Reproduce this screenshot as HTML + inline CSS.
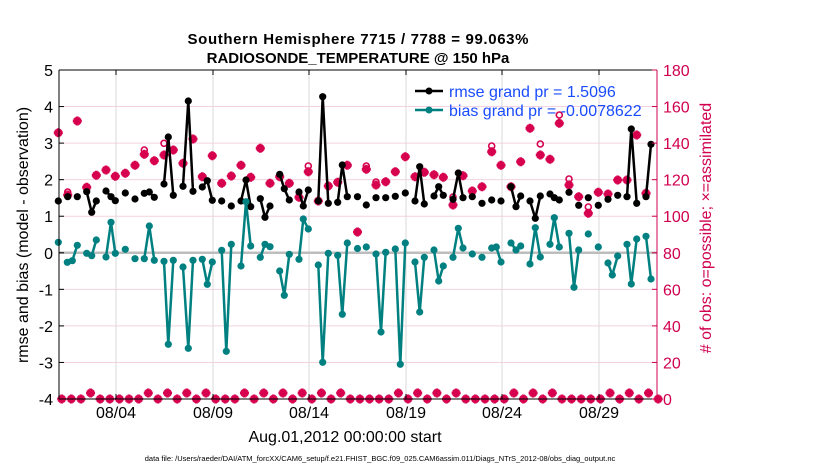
<!DOCTYPE html>
<html><head><meta charset="utf-8"><style>
html,body{margin:0;padding:0;background:#fff;}
svg{display:block;font-family:"Liberation Sans",Arial,sans-serif;}
</style></head><body>
<svg id="s" width="830" height="470" viewBox="0 0 830 470" xmlns="http://www.w3.org/2000/svg">
<rect width="830" height="470" fill="#fff"/>
<g id="grid"></g>
<g id="data"></g>
<g id="axes"></g>
<text x="358" y="44" font-size="15" font-weight="bold" text-anchor="middle" textLength="341">Southern Hemisphere 7715 / 7788 = 99.063%</text>
<text x="358" y="63" font-size="15" font-weight="bold" text-anchor="middle">RADIOSONDE_TEMPERATURE @ 150 hPa</text>
<text transform="translate(28,235) rotate(-90)" font-size="16" text-anchor="middle">rmse and bias (model - observation)</text>
<text transform="translate(711,228) rotate(-90)" font-size="16" text-anchor="middle" fill="#d0004f">#  of obs: o=possible; ×=assimilated</text>
<text x="345" y="442" font-size="16" text-anchor="middle">Aug.01,2012 00:00:00 start</text>
<text x="380" y="461" font-size="7.5" text-anchor="middle">data file: /Users/raeder/DAI/ATM_forcXX/CAM6_setup/f.e21.FHIST_BGC.f09_025.CAM6assim.011/Diags_NTrS_2012-08/obs_diag_output.nc</text>
<g>
<line x1="415" y1="91" x2="443" y2="91" stroke="#000" stroke-width="2.5"/><circle cx="429" cy="91" r="3.5" fill="#000"/>
<line x1="415" y1="110" x2="443" y2="110" stroke="#008080" stroke-width="2.5"/><circle cx="429" cy="110" r="3.5" fill="#008080"/>
<text x="449" y="97" font-size="16" fill="#1a4cff">rmse grand pr = 1.5096</text>
<text x="449" y="116" font-size="16" fill="#1a4cff">bias grand pr = -0.0078622</text>
</g>
</svg>
<script>
const NS="http://www.w3.org/2000/svg";
function el(p,t,a,txt){const e=document.createElementNS(NS,t);for(const k in a)e.setAttribute(k,a[k]);if(txt!==undefined)e.textContent=txt;document.getElementById(p).appendChild(e);return e;}
const X0=59,X1=657,Y0=70,Y1=399,U=(Y1-Y0)/9;
for(let k=1;k<9;k++){const y=Y0+k*U;el('grid','line',{x1:X0,x2:X1,y1:y,y2:y,stroke:'#f3d3df','stroke-width':1});}
const xt=[[116,'08/04'],[213,'08/09'],[309,'08/14'],[406,'08/19'],[502,'08/24'],[599,'08/29']];
xt.forEach(([x,l])=>{el('grid','line',{x1:x,x2:x,y1:Y0,y2:Y1,stroke:'#dadada','stroke-width':1});el('axes','text',{x:x,y:418,'font-size':16,'text-anchor':'middle'},l);
el('axes','line',{x1:x,x2:x,y1:Y1,y2:Y1-5,stroke:'#000'});el('axes','line',{x1:x,x2:x,y1:Y0,y2:Y0+5,stroke:'#000'});});
const y0=Y0+5*U;
el('grid','line',{x1:X0,x2:X1,y1:y0,y2:y0,stroke:'#bdbdbd','stroke-width':2.5});
el('axes','line',{x1:X0,x2:X1,y1:Y0,y2:Y0,stroke:'#000'});
el('axes','line',{x1:X0,x2:X1,y1:Y1,y2:Y1,stroke:'#000'});
el('axes','line',{x1:X0,x2:X0,y1:Y0,y2:Y1,stroke:'#000'});
el('axes','line',{x1:X1,x2:X1,y1:Y0,y2:Y1,stroke:'#d0004f'});
for(let k=0;k<10;k++){const y=Y0+k*U;
el('axes','text',{x:53,y:y+6,'font-size':16,'text-anchor':'end'},String(5-k));
el('axes','line',{x1:X0,x2:X0+5,y1:y,y2:y,stroke:'#000'});
el('axes','line',{x1:X1,x2:X1-5,y1:y,y2:y,stroke:'#d0004f'});
el('axes','text',{x:663,y:y+6,'font-size':16,fill:'#d0004f'},String(180-20*k));}
function star(x,y){el('data','path',{d:`M${x-4.5} ${y}H${x+4.5}M${x} ${y-4.5}V${y+4.5}M${x-3} ${y-3}L${x+3} ${y+3}M${x-3} ${y+3}L${x+3} ${y-3}`,stroke:'#d6004f','stroke-width':2.8,fill:'none'});
el('data','circle',{cx:x,cy:y,r:2.6,fill:'#d6004f'});}
function circ(x,y){el('data','circle',{cx:x,cy:y,r:3,fill:'none',stroke:'#d6004f','stroke-width':1.6});}
const pk=[[58.3,132.7],[67.7,195,192],[77.3,121],[86.7,187.3],[96.3,175.3],[106,170],[115.3,176.3],[125.3,173.3],[135,165.3],[144.3,154.3,150],[154.3,160.7],[164,155,143.3],[173.3,150],[183,163.3],[193,139],[202.3,176.7],[212.3,155.7],[221.7,183.3],[231.3,176],[241,165.3],[250.7,177.3],[260.3,148.3],[270,183.3],[279.7,176.7],[289.3,183.3],[299,197.3],[308.3,171.7,166],[318.3,201],[328.3,186],[337.7,182.3],[347.3,165.3],[357.5,232],[366.3,169.3,166],[376,185,182],[385.7,181.7],[395.3,171.7],[405.3,156.7],[415,176.7],[424.3,172.3],[434,174.7],[443.3,177.3],[453,205,197],[463,175.7],[472.3,191],[482,186.7],[491.7,151.7,146],[501,165.3],[511,186.7],[520.7,161.7],[530,128.3],[540.3,155,144],[550,159.3],[559.3,123.3,115],[569,185,179],[578.7,196.7],[588.3,213.3,207],[598.3,192.3],[608,194],[617.7,180],[627,180],[636.7,135],[646,193.3]];
pk.forEach(p=>{if(p[2])circ(p[0],p[2]);star(p[0],p[1]);});
const rm=[[[58.3,201]],[[67.7,196.7]],[[77.3,196.7]],[[86.7,191.7],[91.7,212.3],[96.3,201]],[[106,191],[111,196.7],[115.3,200.7]],[[125.3,193]],[[135,199]],[[144.3,193.3],[149.3,192],[154.3,197.3]],[[164,184],[168.3,137],[173.3,195.3]],[[183,186.3],[188.3,101],[193,191.3]],[[202.3,187],[207.3,180.7],[212.3,200.3]],[[221.7,201]],[[231.3,206]],[[241,201],[246,180],[250.7,206.7]],[[260.3,198.7],[265,217.3],[270,206]],[[279.7,174.3],[284.3,188.7],[289.3,200]],[[299,192],[303.3,206],[308.3,190]],[[318.3,201],[322.7,96.7],[328.3,203.3]],[[337.7,202.3],[342.3,165],[347.3,196.7]],[[357.5,196.7]],[[366.3,205]],[[376,197.7]],[[385.7,197.7]],[[395.3,196.3]],[[405.3,193]],[[415,201],[419.7,166.7],[424.3,204]],[[434,196],[438.7,186.7],[443.3,195.3]],[[453,199.3],[458.3,173],[463,197.7]],[[472.3,196.7]],[[482,203.3]],[[491.7,200]],[[501,201]],[[511,186.7],[516,206.7],[520.7,196]],[[530,201],[535.3,218.3],[540.3,196]],[[550,194],[554.3,197.7],[559.3,200]],[[569,192.3]],[[578.7,205.3]],[[588.3,197.7]],[[598.3,205.3]],[[608,199.3]],[[617.7,195.3]],[[627,196.7],[631.3,129],[636.7,203.3]],[[646,196.7],[651,144.3]]];
const bi=[[[58.3,242.3]],[[67.3,262.3],[72.3,260.7],[77.3,245.3]],[[86.7,253.3],[91.7,255.7],[96.3,240]],[[106,257],[111,222.3],[115.3,253.3]],[[125.3,249.3]],[[135,258.7]],[[144.3,258.7],[149.3,226],[154.3,260.3]],[[164,261.3],[168.3,344.3],[173.3,260.3]],[[183,267],[188.3,348.3],[193,260.3]],[[202.3,259.3],[207.3,284.3],[212.3,262]],[[221.7,250.3],[226.3,351.3],[231.3,244.3]],[[241,266],[246,201.7],[250.7,246]],[[260.3,257.3],[265,244.3],[270,246.7]],[[279.7,271],[284.3,295.3],[289.3,254.3]],[[299,259.3],[303.3,219],[308.3,229]],[[318.3,265],[322.7,362.3],[328.3,253.3]],[[337.7,255.3],[342.3,314.3],[347.3,243]],[[357.5,248.5]],[[366.3,247]],[[376,254],[381,332],[385.7,252.3]],[[395.3,249],[400.3,364.3],[405.3,243]],[[415,262],[419.7,312],[424.3,257.3]],[[434,250],[438.7,281],[443.3,266]],[[453,257.3],[458.3,228.3],[463,248]],[[472.3,254]],[[482,257.3]],[[491.7,248],[496.3,247],[501,262]],[[511,243],[516,250],[520.7,246]],[[530,264],[535.3,227.7],[540.3,257]],[[550,244.3],[554.3,217.7],[559.3,247]],[[569,233.3],[574,287.3],[578.7,250]],[[588.3,234]],[[598.3,247]],[[608,263],[612.3,275],[617.7,256]],[[627,244.3],[631.3,284],[636.7,239]],[[646,236.3],[651,279]]];
function series(g,c){g.forEach(s=>{if(s.length>1)el('data','polyline',{points:s.map(p=>p.join(',')).join(' '),fill:'none',stroke:c,'stroke-width':2.5,'stroke-linejoin':'round'});s.forEach(p=>el('data','circle',{cx:p[0],cy:p[1],r:3.6,fill:c}));});}
series(rm,'#000');series(bi,'#008080');
const raised=[91.7,149.3,168.3,188.3,207.3,246,265,284.3,303.3,322.7,342.3,400.3,419.7,438.7,458.3,516,535.3,554.3,612.3,631.3,651];
for(let i=0;i<63;i++){const x=61.7+i*9.62;const r=raised.some(v=>Math.abs(v-x)<4.5);star(x,r?393:399);}
</script>
</body></html>
